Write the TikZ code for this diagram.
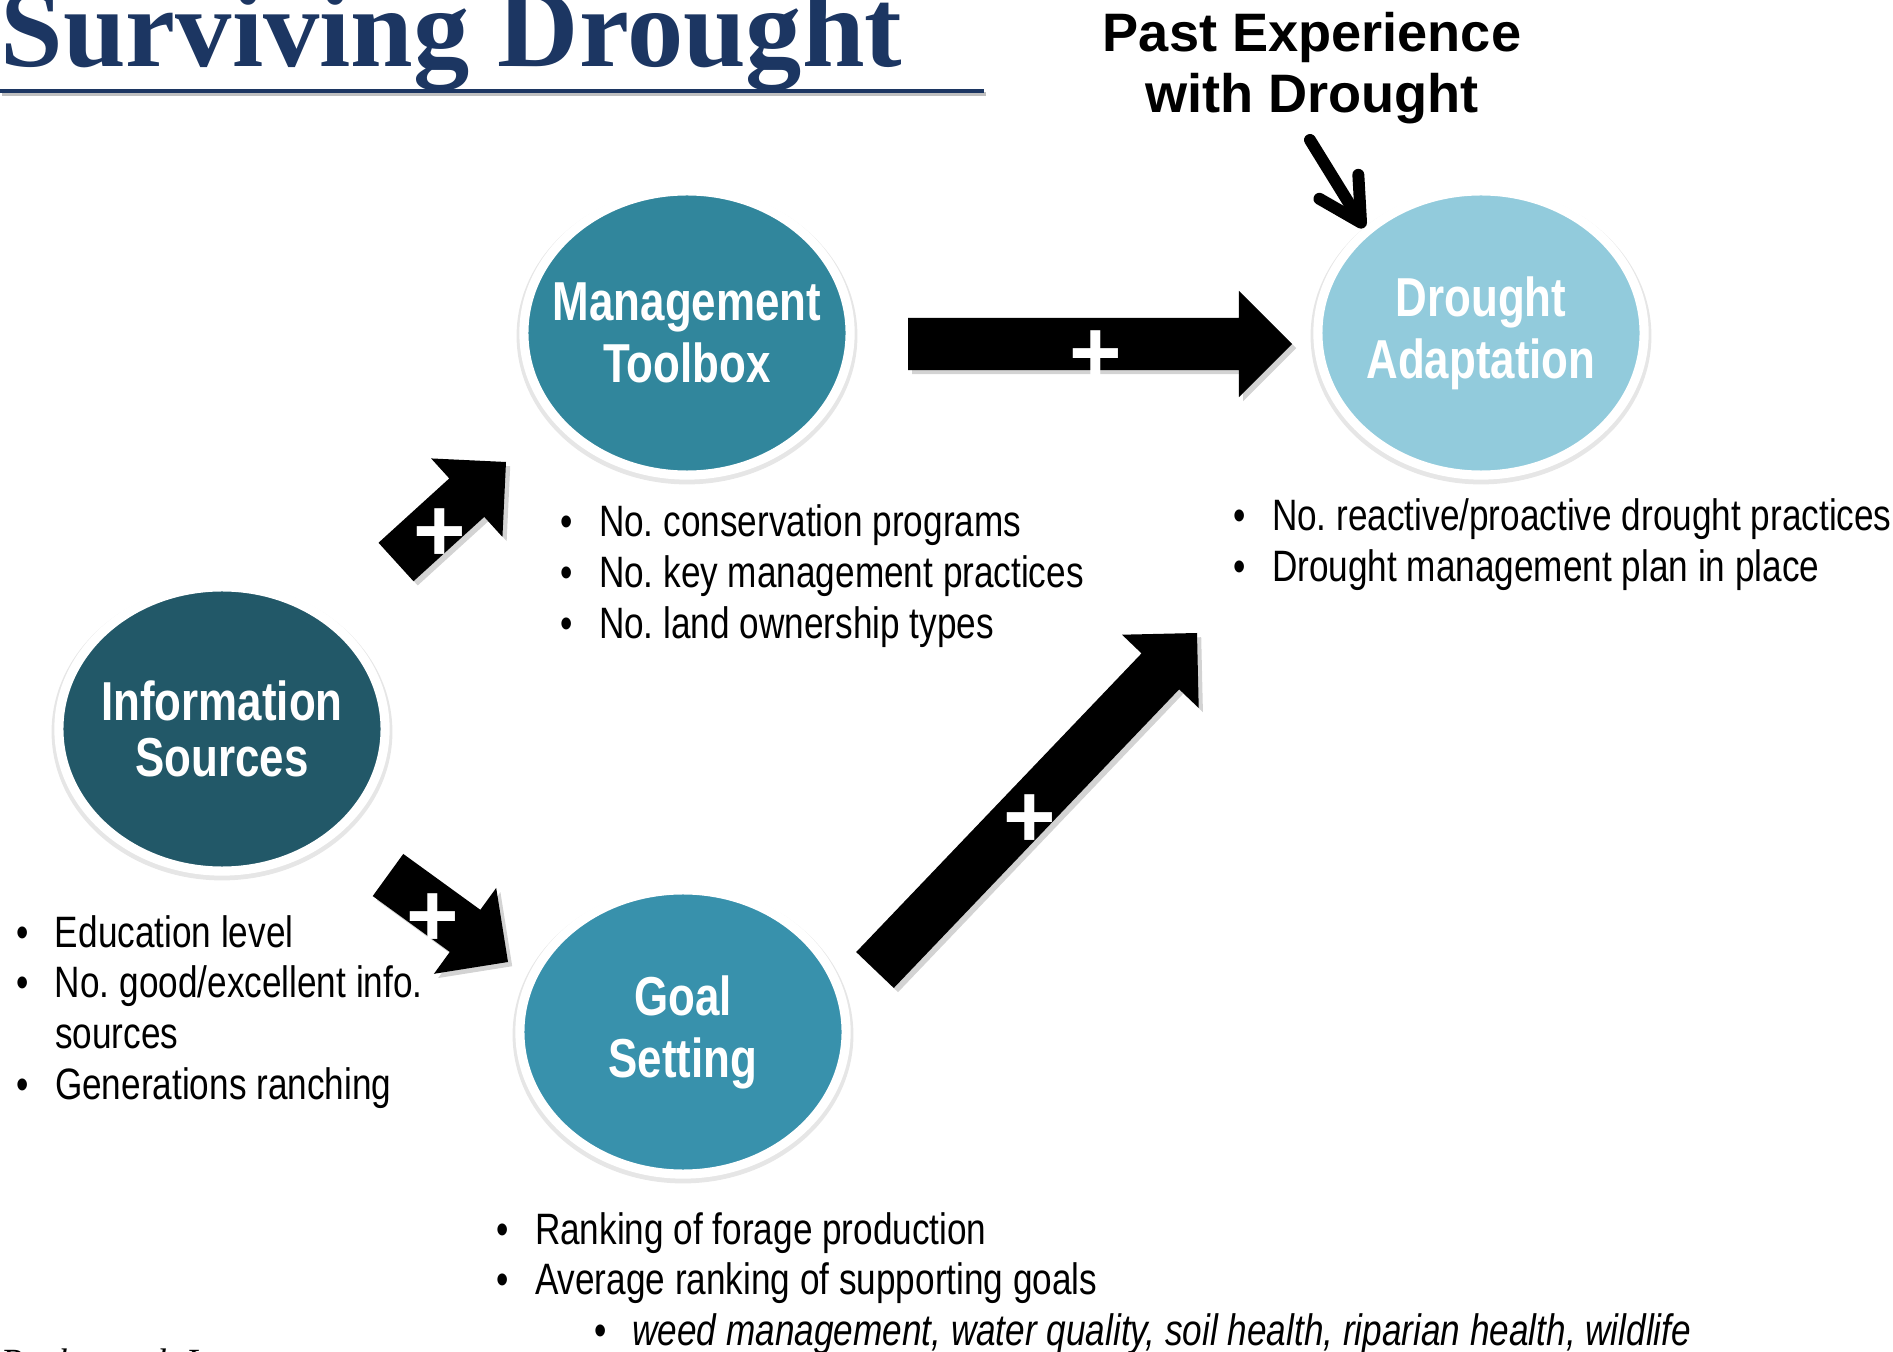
\documentclass[tikz,border=0pt]{standalone}
\usepackage{fontspec}
\setmainfont{Liberation Sans}
\newfontfamily\narrowfont[FakeStretch=0.8]{Liberation Sans}
\newfontfamily\titlefont{Liberation Serif}
\usetikzlibrary{positioning, shapes, calc, shadows}
\usetikzlibrary{arrows.meta}
\frenchspacing

\definecolor{titleblue}{RGB}{28,54,98}
\definecolor{infocol}{RGB}{34,88,104}
\definecolor{toolcol}{RGB}{49,134,156}
\definecolor{goalcol}{RGB}{56,145,172}
\definecolor{adaptcol}{RGB}{146,203,220}

\newcommand{\listfont}{\narrowfont\fontsize{12.5pt}{14.5pt}\selectfont}
\newcommand{\bubblefont}{\narrowfont\bfseries\fontsize{15.6pt}{17.6pt}\selectfont}

% fat arrow from #1 to #2, plus sign at fraction #3
\newcommand{\blockarrow}[3]{%
	\coordinate (#1-hb) at ($(#2)!0.53cm!(#1)$);
	\fill[bigarrow] ($(#1)!0.26cm!90:(#2)$) -- ($(#1-hb)!0.26cm!-90:(#1)$)
		-- ($(#1-hb)!0.53cm!-90:(#1)$) -- (#2) -- ($(#1-hb)!0.53cm!90:(#1)$)
		-- ($(#1-hb)!0.26cm!90:(#1)$) -- ($(#1)!0.26cm!-90:(#2)$) -- cycle;
	\node[plussign] (#1-plus) at ($(#1)!#3!(#2)$) {+};
}

\tikzset{
	bubble/.style={ellipse, draw=white, line width=2.6pt, minimum width=3.26cm, minimum height=2.84cm,
		inner xsep=-0.25cm, inner ysep=0pt, align=center, text=white, font=\bubblefont,
		drop shadow={shadow scale=1.045, shadow xshift=0pt, shadow yshift=-0.8pt, opacity=0.2}},
	bullets/.style={anchor=base west, inner sep=0pt, font=\listfont},
	bigarrow/.style={fill=black, drop shadow={shadow xshift=1.2pt, shadow yshift=-1.2pt, opacity=0.35}},
	plussign/.style={text=white, inner sep=0pt, yshift=-3.7pt, font=\bfseries\fontsize{25.6pt}{25.6pt}\selectfont},
	thinarrow/.style={line width=3.4pt, line cap=round, -{Straight Barb[length=12pt, width=13pt, round]}},
}

\begin{document}
\begin{tikzpicture}[x=0.01cm, y=-0.01cm]

		\useasboundingbox (0,0) rectangle (1893,1352);

		% title
		\node[anchor=base west, inner sep=0pt, text=titleblue, font=\titlefont\bfseries\fontsize{32pt}{32pt}\selectfont] (title) at (0,67) {Surviving Drought};
		\draw[black!25, line width=1.4pt] (2,94) -- (986,94);
		\draw[titleblue, line width=1.4pt] (0,91) -- (984,91);

		% the four circles
		\node[bubble, fill=toolcol] (tool) at (687,333) {Management\\Toolbox};
		\node[bubble, fill=adaptcol] (adapt) at (1481,333) {Drought\\Adaptation};
		\node[bubble, fill=infocol] (info) at (222,729) {Information\\[-1.7pt]Sources};
		\node[bubble, fill=goalcol] (goal) at (683,1032) {Goal\\Setting};

		% past experience
		\node[align=center, inner sep=0pt, anchor=base, font=\bfseries\fontsize{15.4pt}{17.6pt}\selectfont] (past) at (1312,113) {Past Experience\\with Drought};
		\coordinate (pastend) at (1310,140);
		\draw[thinarrow] (pastend) -- (adapt.138);

		% fat arrows
		\coordinate (a1s) at (908,344);
		\coordinate (a1e) at (1292,344);
		\coordinate (a2s) at (396,562);
		\coordinate (a2e) at (506,462);
		\coordinate (a3s) at (388,875);
		\coordinate (a3e) at (508,962);
		\coordinate (a4s) at (875,970);
		\coordinate (a4e) at (1197,633);
		\blockarrow{a1s}{a1e}{0.49}
		\blockarrow{a2s}{a2e}{0.40}
		\blockarrow{a3s}{a3e}{0.37}
		\blockarrow{a4s}{a4e}{0.48}

		% bullet lists
		\node[bullets] (toollist) at (560,537) {\begin{tabular}[t]{@{}l@{\hspace{7.4pt}}l@{}}
			\textbullet & No. conservation programs\\
			\textbullet & No. key management practices\\
			\textbullet & No. land ownership types
		\end{tabular}};
		\node[bullets] (adaptlist) at (1233,531) {\begin{tabular}[t]{@{}l@{\hspace{7.4pt}}l@{}}
			\textbullet & No. reactive/proactive drought practices\\
			\textbullet & Drought management plan in place
		\end{tabular}};
		\node[bullets] (infolist) at (16,947) {\begin{tabular}[t]{@{}l@{\hspace{7.4pt}}l@{}}
			\textbullet & Education level\\
			\textbullet & No. good/excellent info.\\
			 & sources\\
			\textbullet & Generations ranching
		\end{tabular}};
		\node[bullets] (goallist) at (496,1244) {\begin{tabular}[t]{@{}l@{\hspace{7.4pt}}l@{}}
			\textbullet & Ranking of forage production\\
			\textbullet & Average ranking of supporting goals\\
			 & \hspace{16.8pt}\textbullet\hspace{7.4pt}\textit{weed management, water quality, soil health, riparian health, wildlife}
		\end{tabular}};

		% source, cut by the page edge
		\node[anchor=base west, inner sep=0pt, font=\titlefont\itshape\fontsize{10.5pt}{12pt}\selectfont] (cite) at (0,1374) {Roche et al. In prep};

	\end{tikzpicture}
\end{document}
